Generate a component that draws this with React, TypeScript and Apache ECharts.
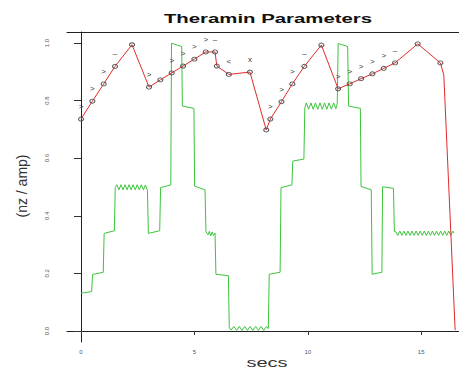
import React, { useEffect, useRef } from "react";
import * as echarts from "echarts";

const titleText = "Theramin Parameters";
const xTitle = "secs";
const yTitle = "(nz / amp)";
const xTicks = [0, 5, 10, 15];
const yTicks = [0, 0.2, 0.4, 0.6, 0.8, 1.0];

// red parameter curve (last two entries have no marker)
const paramSecs = [0.0, 0.5, 1.0, 1.5, 2.25, 3.0, 3.5, 4.0, 4.5, 5.0, 5.5, 5.91, 5.99, 6.52, 7.45, 8.17, 8.35, 8.84, 9.32, 9.85, 10.6, 11.34, 11.85, 12.35, 12.85, 13.35, 13.85, 14.85, 15.85, 16.0, 16.5];
const paramValues = [0.736, 0.798, 0.858, 0.919, 0.994, 0.847, 0.872, 0.896, 0.92, 0.944, 0.969, 0.969, 0.92, 0.891, 0.899, 0.698, 0.736, 0.796, 0.858, 0.919, 0.993, 0.841, 0.858, 0.876, 0.893, 0.912, 0.931, 0.997, 0.931, 0.889, 0.003];
const paramMarks = [">", ">", ">", "–", "", ">", "", ">", ">", ">", ">", "–", "", "<", "x", "", ">", ">", ">", "–", "", ">", ">", ">", ">", ">", "–", "", "", "", ""];
const paramMarkerCount = 29;

// green amplitude trace
const ampTrace: [number, number][] = [
  [0.0, 0.131], [0.47, 0.137], [0.51, 0.196], [0.98, 0.204], [1.02, 0.339], [1.47, 0.348], [1.51, 0.498],
  [1.58, 0.508], [1.67, 0.49], [1.76, 0.508], [1.85, 0.49], [1.94, 0.508], [2.03, 0.49], [2.12, 0.508], [2.21, 0.49],
  [2.3, 0.508], [2.39, 0.49], [2.48, 0.508], [2.57, 0.49], [2.66, 0.508], [2.75, 0.49], [2.84, 0.507], [2.93, 0.488],
  [2.97, 0.339], [3.47, 0.348], [3.51, 0.498], [3.96, 0.507], [3.99, 0.999], [4.44, 0.988], [4.47, 0.781], [4.98, 0.773],
  [5.01, 0.503], [5.47, 0.49], [5.51, 0.345],
  [5.6, 0.334], [5.66, 0.346], [5.72, 0.33], [5.78, 0.344], [5.84, 0.332], [5.91, 0.34],
  [5.95, 0.197], [6.5, 0.192], [6.54, 0.012],
  [6.62, 0.003], [6.74, 0.016], [6.86, 0.002], [6.98, 0.016], [7.1, 0.002], [7.22, 0.016], [7.34, 0.002], [7.46, 0.016],
  [7.58, 0.002], [7.7, 0.016], [7.82, 0.002], [7.94, 0.016], [8.06, 0.002], [8.18, 0.016], [8.26, 0.008],
  [8.3, 0.197], [8.78, 0.204], [8.82, 0.498], [9.3, 0.507], [9.34, 0.59], [9.83, 0.597], [9.87, 0.775],
  [9.94, 0.792], [10.04, 0.77], [10.14, 0.792], [10.24, 0.77], [10.34, 0.792], [10.44, 0.77], [10.54, 0.792], [10.64, 0.77],
  [10.74, 0.792], [10.84, 0.77], [10.94, 0.792], [11.04, 0.77], [11.14, 0.792], [11.24, 0.772], [11.3, 0.79],
  [11.34, 0.998], [11.76, 0.988], [11.8, 0.781], [12.32, 0.773], [12.35, 0.502], [12.8, 0.49], [12.84, 0.197], [13.27, 0.204],
  [13.3, 0.501], [13.78, 0.495], [13.82, 0.345],
  [13.88, 0.345], [13.97, 0.332], [14.06, 0.347], [14.15, 0.332], [14.24, 0.347], [14.33, 0.332], [14.42, 0.347], [14.51, 0.332],
  [14.6, 0.347], [14.69, 0.332], [14.78, 0.347], [14.87, 0.332], [14.96, 0.347], [15.05, 0.332], [15.14, 0.347], [15.23, 0.332],
  [15.32, 0.347], [15.41, 0.332], [15.5, 0.347], [15.59, 0.332], [15.68, 0.347], [15.77, 0.332], [15.86, 0.347], [15.95, 0.332],
  [16.04, 0.347], [16.13, 0.332], [16.22, 0.347], [16.31, 0.332], [16.4, 0.347], [16.45, 0.34],
];

export default function App() {
  const ref = useRef<HTMLDivElement>(null);
  useEffect(() => {
    if (!ref.current) return;
    const chart = echarts.init(ref.current, null, { renderer: "svg" });
    const paramData = paramSecs.map((x, i) => ({
      value: [x, paramValues[i]],
      symbol: i < paramMarkerCount ? "circle" : "none",
    }));
    const xMin = -0.618;
    const xMax = 16.67;
    chart.setOption({
      animation: false,
      backgroundColor: "#ffffff",
      grid: {
        left: 67,
        top: 32,
        width: 392,
        height: 310,
        show: false,
      },
      xAxis: [
        {
          type: "value",
          min: xMin,
          max: xMax,
          axisLine: { show: true, lineStyle: { color: "#222", width: 1 } },
          splitLine: { show: false },
          axisTick: { show: true, customValues: xTicks, length: 4, lineStyle: { color: "#333" } },
          axisLabel: {
            customValues: xTicks,
            fontSize: 6,
            color: "#555",
            margin: 7,
            fontFamily: "Liberation Sans",
          },
        },
        {
          type: "value",
          position: "top",
          min: xMin,
          max: xMax,
          axisLine: { show: true, lineStyle: { color: "#222", width: 1 } },
          splitLine: { show: false },
          axisTick: { show: false },
          axisLabel: { show: false },
        },
      ],
      yAxis: {
        type: "value",
        min: -0.0382,
        max: 1.0382,
        axisLine: { show: true, lineStyle: { color: "#222", width: 1 } },
        splitLine: { show: false },
        axisTick: { show: true, customValues: yTicks, length: 7, lineStyle: { color: "#333" } },
        axisLabel: {
          customValues: yTicks,
          fontSize: 6,
          color: "#555",
          rotate: 90,
          margin: 17,
          fontFamily: "Liberation Sans",
          formatter: (v: number) => v.toFixed(1),
        },
      },
      graphic: [
        {
          type: "text",
          x: 268,
          y: 19,
          scaleX: 1.63,
          style: {
            text: titleText,
            font: "bold 12.5px 'Liberation Sans', Arial, sans-serif",
            fill: "#111",
            textAlign: "center",
            textVerticalAlign: "middle",
          },
        },
        {
          type: "text",
          x: 267,
          y: 363,
          scaleX: 1.54,
          style: {
            text: xTitle,
            font: "13px 'Liberation Sans', Arial, sans-serif",
            fill: "#333",
            textAlign: "center",
            textVerticalAlign: "middle",
          },
        },
        {
          type: "text",
          x: 22,
          y: 186,
          rotation: Math.PI / 2,
          style: {
            text: yTitle,
            font: "14px 'Liberation Sans', Arial, sans-serif",
            fill: "#333",
            textAlign: "center",
            textVerticalAlign: "middle",
          },
        },
      ],
      series: [
        {
          type: "line",
          xAxisIndex: 0,
          data: ampTrace,
          symbol: "none",
          lineStyle: { color: "#3dc43d", width: 1 },
          z: 2,
        },
        {
          type: "line",
          xAxisIndex: 0,
          data: paramData,
          symbolSize: [5, 4],
          lineStyle: { color: "#e22a2a", width: 1 },
          itemStyle: { color: "rgba(0,0,0,0)", borderColor: "#555", borderWidth: 1 },
          label: {
            show: true,
            position: "top",
            distance: 6,
            fontSize: 8,
            color: "#333",
            fontFamily: "Liberation Sans",
            formatter: (p: any) => paramMarks[p.dataIndex] || "",
          },
          labelLayout: { hideOverlap: false },
          z: 3,
        },
      ],
    });
    return () => chart.dispose();
  }, []);
  return (
    <div
      ref={ref}
      style={{ position: "absolute", left: 0, top: 0, width: 459, height: 371 }}
    />
  );
}
